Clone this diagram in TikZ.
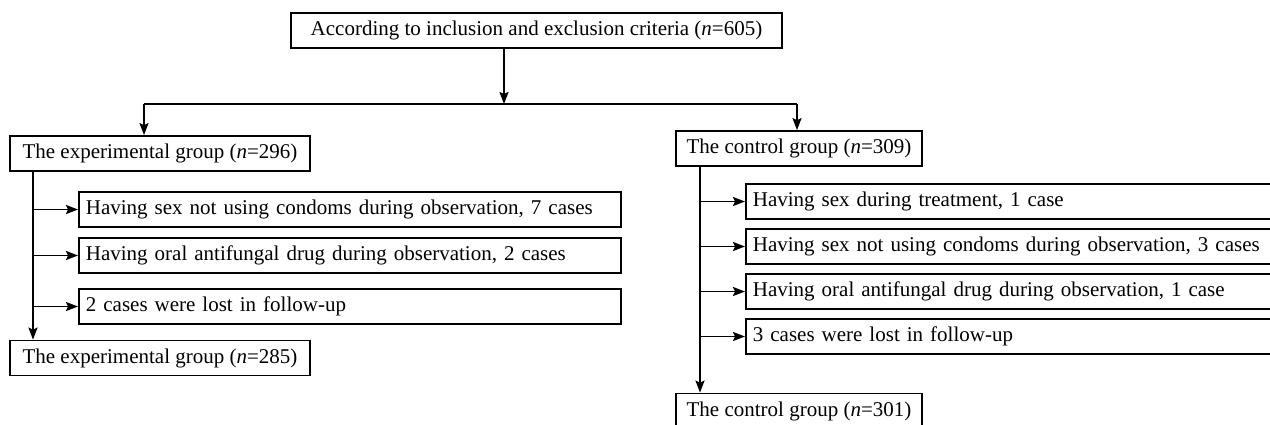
\documentclass[tikz,border=0pt]{standalone}
\usepackage{fontspec}
\setmainfont{Liberation Serif}
\usetikzlibrary{arrows.meta}
\usetikzlibrary{positioning}

\begin{document}
\begin{tikzpicture}
    [x=1pt, y=-1pt, line width=1.8pt,
      box/.style={draw, rectangle, minimum height=35pt, inner sep=0pt,
        font=\fontsize{21}{25}\selectfont},
      grp/.style={box, minimum width=#1}, % group boxes, centred text
      why/.style={box, anchor=west, text width=#1, inner xsep=7pt, align=left},
      arr/.style={-{Stealth[length=12pt,width=9pt,inset=2pt]}},
     ]
    \useasboundingbox (0,0) rectangle (1270,424);

    \node[grp=491pt] (top) at (536.5,30.5)
      {According to inclusion and exclusion criteria (\textit{n}=605)};

    \node[grp=300pt] (exp) at (160,153.5) {The experimental group (\textit{n}=296)};
    \node[why=528pt] (e1) at (78,209.5) {Having sex not using condoms during observation, 7 cases};
    \node[why=528pt] (e2) at (78,255.5) {Having oral antifungal drug during observation, 2 cases};
    \node[why=528pt] (e3) at (78,306.5) {2 cases were lost in follow-up};
    \node[grp=300pt] (expend) at (160,358) {The experimental group (\textit{n}=285)};

    \node[grp=246pt] (ctrl) at (799,148.5) {The control group (\textit{n}=309)};
    \node[why=521pt] (c1) at (745,201.5) {Having sex during treatment, 1 case};
    \node[why=521pt] (c2) at (745,246.5) {Having sex not using condoms during observation, 3 cases};
    \node[why=521pt] (c3) at (745,291.5) {Having oral antifungal drug during observation, 1 case};
    \node[why=521pt] (c4) at (745,336.5) {3 cases were lost in follow-up};
    \node[grp=246pt] (ctrlend) at (799,411) {The control group (\textit{n}=301)};

    \coordinate (split) at (504,104);
    \coordinate (lbend) at (144,104);
    \coordinate (rbend) at (797,104);
    \coordinate (ltrunk) at (33,171);
    \coordinate (rtrunk) at (700,166);

    \draw[arr] (split |- top.south) -- (split);
    \draw (lbend) -- (rbend);
    \draw[arr] (lbend) -- (lbend |- exp.north);
    \draw[arr] (rbend) -- (rbend |- ctrl.north);

    \draw[arr] (ltrunk |- exp.south) -- (ltrunk |- expend.north);
    \foreach \b in {e1,e2,e3}
      \draw[arr] (ltrunk |- \b.west) -- (\b.west);

    \draw[arr] (rtrunk |- ctrl.south) -- (rtrunk |- ctrlend.north);
    \foreach \b in {c1,c2,c3,c4}
      \draw[arr] (rtrunk |- \b.west) -- (\b.west);
\end{tikzpicture}
\end{document}
